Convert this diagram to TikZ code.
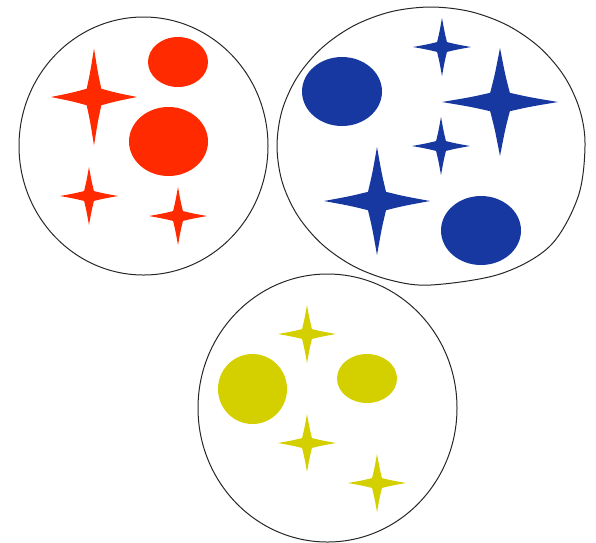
\documentclass[tikz,border=0pt]{standalone}
\definecolor{cred}{RGB}{255,42,0}
\definecolor{cblue}{RGB}{22,56,160}
\definecolor{cyel}{RGB}{212,208,0}
\tikzset{ring/.style={draw=black!85,line width=1pt}}
\newcommand\spk[5]{\fill[#5,shift={(#1,#2)},xscale=#3,yscale=#4] (0,-1) .. controls (0.09,-0.5) .. (0.17,-0.17) .. controls (0.5,-0.09) .. (1,0) .. controls (0.5,0.09) .. (0.17,0.17) .. controls (0.09,0.5) .. (0,1) .. controls (-0.09,0.5) .. (-0.17,0.17) .. controls (-0.5,0.09) .. (-1,0) .. controls (-0.5,-0.09) .. (-0.17,-0.17) .. controls (-0.09,-0.5) .. (0,-1) -- cycle;}
\begin{document}
\begin{tikzpicture}[x=1pt,y=-1pt]
\useasboundingbox (0,0) rectangle (596,542);
% red group
\draw[ring] (143.5,146) ellipse [x radius=124.5, y radius=129];
\spk{94}{97}{43}{48.5}{cred}
\fill[cred] (178,62) ellipse [x radius=30, y radius=25];
\fill[cred] (168.5,141.5) ellipse [x radius=39.5, y radius=34.5];
\spk{89}{196}{29}{29}{cred}
\spk{178}{216}{29}{29}{cred}
% blue group
\draw[ring] plot[smooth cycle, tension=0.55] coordinates {
 (585,146) (578,197) (550,246) (500,274) (431,285)
 (391.1,280.3) (354,266.4) (322.1,244.3) (297.6,215.5) (282.2,182) (277,146) (282.2,110)
 (297.6,76.5) (322.1,47.7) (354,25.6) (391.1,11.7) (431,7) (470.9,11.7) (508,25.6)
 (539.9,47.7) (564.4,76.5) (579.8,110)};
\fill[cblue] (342,91.5) ellipse [x radius=40, y radius=34.5];
\spk{442}{47}{29}{29}{cblue}
\spk{500}{102}{58}{54}{cblue}
\spk{441}{146}{29}{29}{cblue}
\spk{377}{201}{53}{54}{cblue}
\fill[cblue] (481,230.5) ellipse [x radius=40, y radius=34.5];
% yellow group
\draw[ring] (327.5,408) ellipse [x radius=129.5, y radius=134];
\spk{307}{334}{29}{29}{cyel}
\fill[cyel] (252.5,389) ellipse [x radius=34.5, y radius=35];
\fill[cyel] (367,378.5) ellipse [x radius=30, y radius=24.5];
\spk{307}{443}{29}{29}{cyel}
\spk{377}{483}{29}{29}{cyel}
\end{tikzpicture}
\end{document}
